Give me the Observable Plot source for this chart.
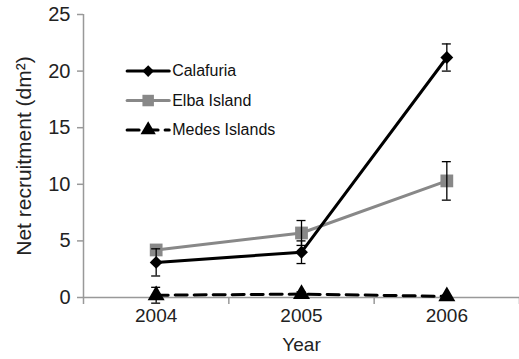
<!DOCTYPE html>
<html><head><meta charset="utf-8">
<script src="https://cdn.jsdelivr.net/npm/d3@7"></script>
<script src="https://cdn.jsdelivr.net/npm/@observablehq/plot@0.6"></script>
<style>body{margin:0;background:#fff;} svg{font-family:"Liberation Sans",Arial,sans-serif;}</style>
</head><body><div id="chart"></div>
<script>
const years = [2004, 2005, 2006];
const seriesNames = ["Calafuria", "Elba Island", "Medes Islands"];
const calafuria = [3.1, 4.0, 21.2];
const calafuriaErr = [1.2, 1.0, 1.2];
const elba = [4.2, 5.7, 10.3];
const elbaErr = [0, 1.1, 1.7];
const medes = [0.2, 0.3, 0.1];
const medesErr = [0.7, 0.2, 0.1];
const yTicks = [0, 5, 10, 15, 20, 25];

const style = {
  "Calafuria": {stroke: "#000", symbol: "diamond2", r: 5.8, dash: null},
  "Elba Island": {stroke: "#888", symbol: "square", r: 7.2, dash: null},
  "Medes Islands": {stroke: "#000", symbol: "triangle", r: 6.3, dash: "12,7"}
};
const vals = {"Calafuria": calafuria, "Elba Island": elba, "Medes Islands": medes};
const errs = {"Calafuria": calafuriaErr, "Elba Island": elbaErr, "Medes Islands": medesErr};
const rows = name => years.map((yr, i) => ({year: yr, v: vals[name][i], e: errs[name][i], name}));

const boundaries = d3.range(years.length + 1).map(i => years[0] - 0.5 + i);
const drawOrder = ["Medes Islands", "Elba Island", "Calafuria"];

const marks = [
  Plot.ruleX([boundaries[0]], {stroke: "#999", strokeWidth: 1.5}),
  Plot.ruleY([0], {stroke: "#999", strokeWidth: 1.5}),
  Plot.axisY({ticks: yTicks, tickSize: 6, tickPadding: 7, stroke: "#999", strokeWidth: 1.5, fill: "#222", fontSize: 20, label: null}),
  Plot.axisY({ticks: [], label: "Net recruitment (dm²)", labelAnchor: "center", labelArrow: "none", labelOffset: 67, fontSize: 21, fill: "#222"}),
  Plot.axisX({ticks: boundaries, tickSize: 7, tickFormat: () => "", stroke: "#999", strokeWidth: 1.5, label: null}),
  Plot.axisX({ticks: years, tickSize: 0, tickPadding: 11, tickFormat: d => String(d), fill: "#222", fontSize: 19, label: "Year", labelAnchor: "center", labelArrow: "none", labelOffset: 53})
];

for (const name of drawOrder) {
  const s = style[name];
  marks.push(Plot.line(rows(name), {x: "year", y: "v", stroke: s.stroke, strokeWidth: 3, strokeDasharray: s.dash}));
}
for (const name of drawOrder) {
  const s = style[name];
  const d = rows(name).filter(r => r.e > 0);
  marks.push(Plot.dot(rows(name), {x: "year", y: "v", symbol: () => s.symbol, r: s.r, fill: s.stroke, stroke: "none"}));
  marks.push(Plot.ruleX(d, {x: "year", y1: r => r.v - r.e, y2: r => r.v + r.e, stroke: "#000", strokeWidth: 1.3}));
  const caps = d.flatMap(r => [{year: r.year, y: r.v - r.e}, {year: r.year, y: r.v + r.e}]);
  marks.push(Plot.ruleY(caps, {x1: "year", x2: "year", y: "y", insetLeft: -4.5, insetRight: -4.5, stroke: "#000", strokeWidth: 1.3}));
}

// Legend inside the frame (positions derived from the scale domain)
const legendY = seriesNames.map((n, i) => 20 - i * 2.6);
const lx1 = boundaries[0] + 0.3, lx2 = boundaries[0] + 0.59, lxt = lx2 + 0.02;
seriesNames.forEach((name, i) => {
  const s = style[name];
  marks.push(Plot.line([{x: lx1, y: legendY[i]}, {x: lx2, y: legendY[i]}], {x: "x", y: "y", stroke: s.stroke, strokeWidth: 3, strokeDasharray: s.dash}));
  marks.push(Plot.dot([{x: (lx1 + lx2) / 2, y: legendY[i]}], {x: "x", y: "y", symbol: () => s.symbol, r: s.r * 0.9, fill: s.stroke, stroke: "none"}));
  marks.push(Plot.text([{x: lxt, y: legendY[i], t: name}], {x: "x", y: "y", text: "t", textAnchor: "start", fontSize: 16, fill: "#111"}));
});

const chart = Plot.plot({
  width: 519, height: 359,
  marginLeft: 83, marginRight: 0, marginTop: 14, marginBottom: 62,
  style: {fontSize: "18px", fontFamily: "Liberation Sans, Arial, sans-serif", background: "#fff"},
  x: {type: "linear", domain: [boundaries[0], boundaries[boundaries.length - 1]]},
  y: {type: "linear", domain: [0, 25]},
  symbol: {type: "identity"},
  marks
});
document.getElementById("chart").appendChild(chart);
</script></body></html>
